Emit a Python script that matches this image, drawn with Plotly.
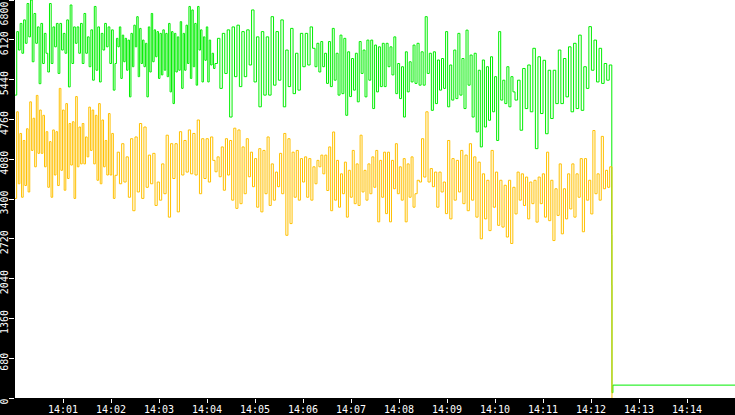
import pandas as pd
import plotly.graph_objects as go

DAY = "2024-01-01"

# segment boundaries for the sampled part (each block of readings spans one segment)
SEG_BOUNDS = ["14:00:00", "14:02:05", "14:04:10", "14:06:15", "14:08:20", "14:10:25", "14:12:26"]

green_blocks = [
    [5175, 6260, 5945, 6400, 5890, 6460, 6060, 6740, 6170, 6800, 5745, 6570, 6060, 6340, 5370, 6400,
     5715, 6230, 5890, 5570, 6740, 5715, 6340, 6000, 6400, 5545, 6400, 5945, 6230, 5890, 6460, 5315,
     6715, 5715, 6340, 6060, 6340, 5890, 6400, 5715, 6570, 5890, 6170, 5660, 6290, 5430, 6690, 5600,
     6340, 5400, 6230, 5945, 6400, 6000, 6340, 5715, 6290, 5260],
    [5715, 6145, 6000, 6340, 5460, 6200, 5745, 6145, 5600, 6115, 5145, 6230, 5660, 6370, 6000, 6515,
     5490, 6315, 5715, 6115, 5660, 6060, 5145, 6340, 5570, 6570, 5745, 6290, 5830, 6260, 5460, 6230,
     5520, 6290, 5600, 6230, 5490, 6400, 5230, 6260, 5030, 6230, 5570, 6170, 5600, 6430, 5290, 6230,
     5600, 6370, 5715, 6690, 5460, 6630, 5660, 6400, 5345, 6690, 5945, 6290, 5400, 6170, 5770, 6340,
     5400, 6115, 5690, 5890, 5630],
    [5715, 6145, 5290, 6230, 5545, 6290, 4800, 6340, 5490, 6370, 5320, 6260, 5490, 6290, 5690, 6630,
     5400, 6170, 4975, 6260, 5175, 6170, 5175, 6515, 5345, 6260, 5430, 6460, 4975, 5945, 5320, 6315,
     5200, 5890, 5260, 6230, 5660, 6230, 5690, 6340, 5975],
    [5660, 6060, 5570, 6090, 5660, 5890, 5375, 6090, 5320, 6315, 5430, 5890, 5175, 6200, 5200, 6145,
     4830, 5915, 5150, 5800, 5260, 5890, 5060, 6090, 5545, 5945, 5145, 6115, 5430, 6115, 4945, 6030,
     5230, 6000, 5320, 6060, 5320, 6060, 5660, 6000, 5520, 6170, 5200, 5715, 5115, 5660, 4800, 5915,
     5230, 5745, 5400, 6030],
    [5375, 6060, 5345, 5915, 5345, 6515, 5545, 5890, 4915, 5915, 5030, 5775, 5260, 5800, 5290, 6260,
     4975, 5690, 5090, 5945, 5115, 6230, 5175, 5800, 4945, 6285, 5345, 5860, 4800, 5890, 4545, 5600,
     4290, 5775, 4630, 5660, 4745, 5830, 4890, 5490, 4400, 6260, 5090, 5430, 5030, 5660, 4975, 5490,
     5230],
    [5090, 5430, 4575, 5630, 4945, 5690, 4890, 5975, 4260, 5830, 4860, 5770, 4515, 5600, 4775, 5600,
     5030, 5945, 5030, 5800, 5145, 6000, 4890, 6060, 4945, 6200, 4915, 5660, 5290, 6345, 5600, 6115,
     5400, 5975, 5375, 5715, 5430, 5690],
]

yellow_blocks = [
    [3410, 4890, 3660, 4520, 3430, 4400, 3630, 4600, 3520, 5060, 4230, 4780, 3950, 5170, 4180, 4920,
     4180, 4830, 3950, 4550, 3600, 4380, 3430, 4580, 3810, 4550, 3630, 5290, 3890, 4920, 3550, 5030,
     3750, 4690, 3980, 4720, 3410, 5150, 3950, 4630, 4000, 4690, 4000, 4460, 4120, 4970, 4230, 4920,
     4000, 4830, 3720, 5030, 3660, 4750, 3950, 4400, 3810, 4860, 3810, 4520, 3410],
    [3805, 4200, 3660, 4345, 3690, 4120, 3430, 4430, 3200, 4460, 3520, 4690, 3410, 4630, 3600, 4150,
     3660, 4180, 3290, 3690, 3380, 4000, 3490, 4490, 3090, 4345, 3750, 4345, 3180, 4550, 3810, 4400,
     3860, 4580, 3830, 4520, 3810, 4750, 3490, 4430, 3750, 4430, 3690, 4460, 4060],
    [3865, 4120, 3780, 4290, 3550, 4430, 3810, 4400, 3380, 4610, 3240, 4580, 3320, 4290, 3490, 4430,
     3780, 4200, 3610, 4090, 3260, 4260, 3180, 4230, 3490, 4460, 3290, 4000, 3380, 3860, 3610, 4180,
     3490, 4520, 2780, 4430, 2980, 4200, 3430, 4230, 3380, 4090, 3690, 4120, 3430, 4090, 3380, 3950],
    [3660, 4060, 3950, 4150, 3830, 4150, 3545, 4290, 3200, 4545, 3380, 4060, 3260, 3830, 3490, 4030,
     3090, 3890, 3430, 4230, 3320, 4000, 3290, 4490, 3520, 3890, 3380, 4000, 3490, 4120, 3600, 4230,
     3010, 4060, 3430, 4200, 3150, 4200, 3010, 4060, 3575, 4345, 3490, 3950, 3380, 4090, 3010, 4000,
     3430, 4120, 3260],
    [3490, 3720, 3690, 4430, 3775, 4890, 3690, 3920, 3610, 3860, 3260, 3860, 3520, 3690, 3150, 4400,
     3060, 4090, 3380, 4060, 3520, 4230, 3320, 4150, 3200, 4345, 3380, 4120, 3090, 4030, 2720, 3830,
     3060, 3720, 2860, 4230, 3260, 3860, 2950, 3720, 2920, 3635, 2750, 3720, 2640, 3600],
    [3145, 3860, 3380, 3830, 3290, 3775, 3060, 3690, 3320, 3720, 3005, 3775, 3320, 3830, 3090, 4200,
     3030, 3720, 2690, 3575, 3120, 4000, 2805, 3575, 3060, 3830, 3230, 4000, 3090, 3830, 3430, 4090,
     2840, 4090, 3380, 3720, 3145, 4570, 3490, 3830, 3380, 4470, 3575, 3890, 3600, 3950],
]

# the feed dropping out at the end
green_tail_t = ["14:12:26.000", "14:12:26.100", "14:12:26.200", "14:12:27.400", "14:15:00.000"]
green_tail = [2790, 1930, 90, 220, 220]
yellow_tail_t = ["14:12:26.200"]
yellow_tail = [0]

x_ticks = ["14:%02d" % m for m in range(1, 15)]
y_ticks = [0, 680, 1360, 2040, 2720, 3400, 4080, 4760, 5440, 6120, 6800]

GREEN = "#00ee00"
YELLOW = "#ffc000"
FONT = dict(family="DejaVu Sans Mono", size=10, color="white")


def stamp(t):
    return pd.Timestamp(DAY + " " + t)


def build(blocks, tail_t, tail_v):
    times, vals = [], []
    for i, block in enumerate(blocks):
        t0, t1 = stamp(SEG_BOUNDS[i]), stamp(SEG_BOUNDS[i + 1])
        span_ms = (t1 - t0).total_seconds() * 1000
        for k, v in enumerate(block):
            ts = t0 + pd.Timedelta(milliseconds=int(span_ms * k / len(block)))
            times.append(ts.strftime("%Y-%m-%d %H:%M:%S.%f")[:-3])
            vals.append(v)
    times += [DAY + " " + t for t in tail_t]
    vals += tail_v
    return times, vals


gx, gy = build(green_blocks, green_tail_t, green_tail)
yx, yy = build(yellow_blocks, yellow_tail_t, yellow_tail)

fig = go.Figure()
# simplify off, otherwise plotly.js merges the dense zigzag into flat runs
fig.add_trace(go.Scatter(x=gx, y=gy, mode="lines",
                         line=dict(color=GREEN, width=1, shape="hv", simplify=False),
                         hoverinfo="skip"))
fig.add_trace(go.Scatter(x=yx, y=yy, mode="lines",
                         line=dict(color=YELLOW, width=1, shape="hv", simplify=False),
                         hoverinfo="skip"))

fig.update_layout(
    template="none",
    width=735, height=415,
    margin=dict(l=15, r=0, t=0, b=17),
    paper_bgcolor="black", plot_bgcolor="white",
    showlegend=False,
    font=FONT,
)
fig.update_xaxes(
    type="date", range=[DAY + " 14:00:00", DAY + " 14:15:00"],
    tickvals=[DAY + " " + t for t in x_ticks], ticktext=x_ticks,
    ticks="outside", ticklen=4, tickcolor="white", tickwidth=1,
    ticklabelstandoff=-2,
    showgrid=False, zeroline=False, showline=False, automargin=False,
)
# top label would be cut by the page edge, so it is placed as an annotation instead
fig.update_yaxes(
    range=[0, 6800], tickvals=y_ticks,
    ticktext=[str(v) for v in y_ticks[:-1]] + [""],
    tickangle=-90,
    ticks="outside", ticklen=5, tickcolor="white", tickwidth=1,
    ticklabelshift=5, ticklabelstandoff=-3,
    showgrid=False, zeroline=False, showline=False, automargin=False,
)
fig.add_annotation(
    x=0, xref="paper", y=1, yref="paper", text=str(y_ticks[-1]),
    textangle=-90, xanchor="right", yanchor="top", xshift=-4,
    showarrow=False, font=FONT,
)

# page margin would push the 735x415 figure out of the window
fig.write_html("out.html", config={"displayModeBar": False},
               post_script="document.body.style.margin = '0';")
